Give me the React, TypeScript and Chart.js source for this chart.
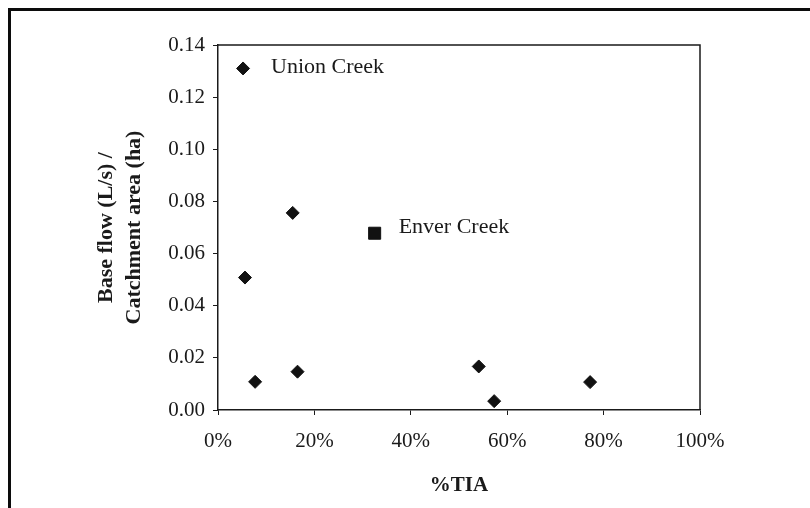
import React, { useEffect, useRef } from "react";
import { Chart, registerables } from "chart.js";

Chart.register(...registerables);

// ---- data ----
const siteTIA: number[] = [5.2, 5.6, 15.5, 7.7, 16.5, 54.1, 57.3, 77.2];
const siteBaseFlow: number[] = [0.131, 0.0508, 0.0756, 0.0108, 0.0147, 0.0167, 0.0034, 0.0107];
const enverTIA: number[] = [32.5];
const enverBaseFlow: number[] = [0.0678];
const annotationTexts: string[] = ["Union Creek", "Enver Creek"];
const xTicks: number[] = [0, 20, 40, 60, 80, 100];
const xTickLabels: string[] = ["0%", "20%", "40%", "60%", "80%", "100%"];
const yTicks: number[] = [0, 0.02, 0.04, 0.06, 0.08, 0.1, 0.12, 0.14];
const yTickLabels: string[] = ["0.00", "0.02", "0.04", "0.06", "0.08", "0.10", "0.12", "0.14"];
const xTitle = "%TIA";
const yTitle: string[] = ["Base flow (L/s) /", "Catchment area (ha)"];

const SERIF = "'Liberation Serif', 'Times New Roman', serif";
const INK = "#111";
const TEXT = "#1a1a1a";

// annotation placement: [datasetIndex, pointIndex, dx, dy]
const annotationPlacement: [number, number, number, number][] = [
  [0, 0, 28, -1],
  [1, 0, 24, -6],
];

const annotationPlugin = {
  id: "pointAnnotations",
  afterDatasetsDraw(chart: any) {
    const ctx = chart.ctx;
    ctx.save();
    ctx.font = `22px ${SERIF}`;
    ctx.fillStyle = TEXT;
    ctx.textAlign = "left";
    ctx.textBaseline = "middle";
    annotationPlacement.forEach(([ds, idx, dx, dy], i) => {
      const el = chart.getDatasetMeta(ds).data[idx];
      if (!el) return;
      ctx.fillText(annotationTexts[i], el.x + dx, el.y + dy);
    });
    ctx.restore();
  },
};

const frameBoxPlugin = {
  id: "frameBox",
  afterDraw(chart: any) {
    const { ctx, chartArea } = chart;
    ctx.save();
    ctx.strokeStyle = "#1a1a1a";
    ctx.lineWidth = 1.5;
    ctx.beginPath();
    ctx.moveTo(chartArea.left, chartArea.top);
    ctx.lineTo(chartArea.right, chartArea.top);
    ctx.lineTo(chartArea.right, chartArea.bottom);
    ctx.stroke();
    ctx.restore();
  },
};

export default function App() {
  const canvasRef = useRef<HTMLCanvasElement | null>(null);

  useEffect(() => {
    if (!canvasRef.current) return;
    const chart = new Chart(canvasRef.current, {
      type: "scatter",
      data: {
        datasets: [
          {
            label: "Sites",
            data: siteTIA.map((x, i) => ({ x, y: siteBaseFlow[i] })),
            pointStyle: "rectRot",
            pointRadius: 6.5,
            pointBorderWidth: 1,
            backgroundColor: INK,
            borderColor: INK,
          },
          {
            label: "Enver Creek",
            data: enverTIA.map((x, i) => ({ x, y: enverBaseFlow[i] })),
            pointStyle: "rect",
            pointRadius: 8.5,
            pointBorderWidth: 1,
            backgroundColor: INK,
            borderColor: INK,
          },
        ],
      },
      options: {
        animation: false,
        responsive: false,
        devicePixelRatio: 1,
        layout: { padding: { top: 45, right: 110, bottom: 0, left: 0 } },
        plugins: {
          legend: { display: false },
          tooltip: { enabled: false },
        },
        scales: {
          x: {
            type: "linear",
            min: 0,
            max: 100,
            afterBuildTicks: (s: any) => {
              s.ticks = xTicks.map((v) => ({ value: v }));
            },
            afterFit: (s: any) => {
              s.height = 98;
            },
            ticks: {
              callback: (_v: any, i: number) => xTickLabels[i],
              font: { family: SERIF, size: 21 },
              color: TEXT,
              padding: 14,
              maxRotation: 0,
            },
            grid: {
              display: true,
              drawOnChartArea: false,
              drawTicks: true,
              tickLength: 5,
              color: "#1a1a1a",
              lineWidth: 1,
            },
            border: { display: true, color: "#1a1a1a", width: 1.5 },
            title: {
              display: true,
              text: xTitle,
              font: { family: SERIF, size: 21, weight: "bold" },
              color: TEXT,
              padding: { top: 0, bottom: 10 },
            },
          },
          y: {
            type: "linear",
            min: 0,
            max: 0.14,
            afterBuildTicks: (s: any) => {
              s.ticks = yTicks.map((v) => ({ value: v }));
            },
            afterFit: (s: any) => {
              s.width = 218;
            },
            ticks: {
              callback: (_v: any, i: number) => yTickLabels[i],
              font: { family: SERIF, size: 21 },
              color: TEXT,
              padding: 8,
            },
            grid: {
              display: true,
              drawOnChartArea: false,
              drawTicks: true,
              tickLength: 5,
              color: "#1a1a1a",
              lineWidth: 1,
            },
            border: { display: true, color: "#1a1a1a", width: 1.5 },
            title: {
              display: true,
              text: yTitle,
              font: { family: SERIF, size: 22, weight: "bold", lineHeight: "28px" },
              color: TEXT,
              padding: { top: 92, bottom: 0 },
            },
          },
        },
      } as any,
      plugins: [annotationPlugin, frameBoxPlugin],
    });
    return () => chart.destroy();
  }, []);

  return (
    <div
      style={{
        position: "fixed",
        left: 0,
        top: 0,
        width: 810,
        height: 508,
        background: "#fff",
        overflow: "hidden",
      }}
    >
      <canvas ref={canvasRef} width={810} height={508} style={{ display: "block", width: 810, height: 508 }} />
      <div
        style={{
          position: "absolute",
          left: 8,
          top: 8,
          right: 0,
          bottom: 0,
          borderTop: "3px solid #0c0c0c",
          borderLeft: "3px solid #0c0c0c",
          pointerEvents: "none",
        }}
      />
    </div>
  );
}
